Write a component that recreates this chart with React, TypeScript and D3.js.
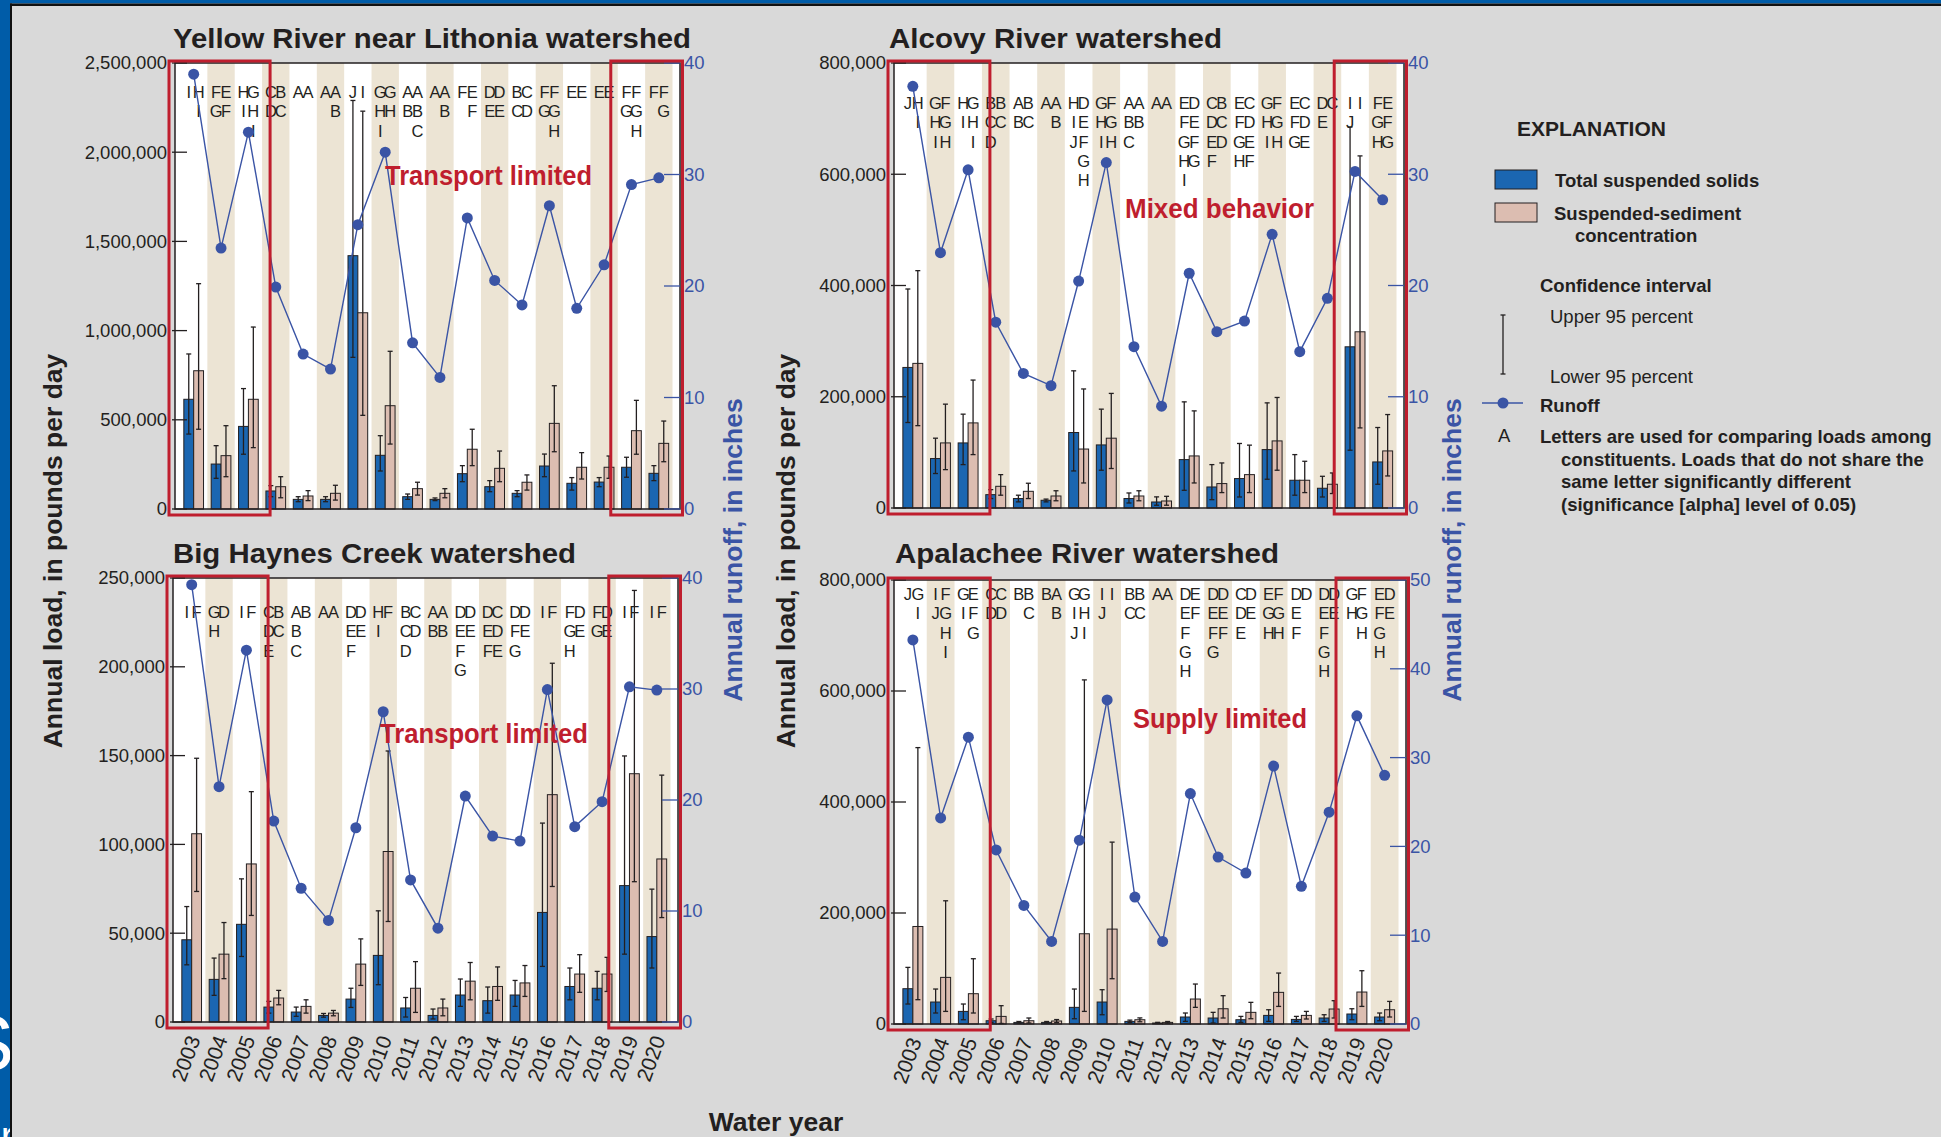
import React from 'react';
import * as d3 from 'd3';

const years = ['2003', '2004', '2005', '2006', '2007', '2008', '2009', '2010', '2011', '2012', '2013', '2014', '2015', '2016', '2017', '2018', '2019', '2020'];

// Yellow River near Lithonia
const yellowTss = [615000, 252000, 463000, 101000, 54000, 54000, 1420000, 301000, 69000, 54000, 198000, 125000, 88000, 241000, 144000, 151000, 234000, 200000];
const yellowTssLo = [420000, 172000, 307000, 69000, 41000, 41000, 850000, 213000, 54000, 47000, 153000, 97000, 69000, 181000, 106000, 125000, 178000, 159000];
const yellowTssHi = [869000, 355000, 675000, 131000, 69000, 69000, 2290000, 411000, 84000, 62000, 243000, 159000, 103000, 308000, 176000, 176000, 290000, 243000];
const yellowSsc = [775000, 299000, 615000, 125000, 73000, 88000, 1100000, 579000, 114000, 88000, 335000, 228000, 150000, 480000, 234000, 234000, 439000, 368000];
const yellowSscLo = [447000, 181000, 344000, 63000, 47000, 50000, 525000, 364000, 78000, 63000, 243000, 153000, 106000, 321000, 168000, 172000, 307000, 265000];
const yellowSscHi = [1263000, 467000, 1020000, 181000, 103000, 133000, 2230000, 884000, 150000, 114000, 447000, 325000, 191000, 691000, 316000, 297000, 609000, 493000];
const yellowRunoff = [39.0, 23.4, 33.8, 19.9, 13.9, 12.55, 25.5, 32.0, 14.9, 11.8, 26.1, 20.5, 18.3, 27.2, 18.0, 21.9, 29.1, 29.7];
const yellowTssLetters = ['I', 'FG', 'HI', 'CD', 'A', 'A', 'J', 'GHI', 'AB', 'A', 'F', 'DE', 'BC', 'FG', 'E', 'E', 'FG', 'F'];
const yellowSscLetters = ['HI', 'EF', 'GHI', 'BC', 'A', 'AB', 'I', 'GH', 'ABC', 'AB', 'EF', 'DE', 'CD', 'FGH', 'E', 'E', 'FGH', 'FG'];

// Alcovy River
const alcovyTss = [252700, 88900, 117000, 24000, 17000, 13900, 135700, 113400, 17000, 10800, 87000, 37800, 52900, 105000, 49900, 35500, 289800, 82800];
const alcovyTssLo = [153700, 62000, 78000, 17000, 11000, 11000, 66600, 67900, 9000, 5000, 31800, 15000, 19800, 51700, 23000, 19800, 103900, 42700];
const alcovyTssHi = [393700, 125500, 168700, 33000, 23000, 16000, 246600, 177700, 27000, 20000, 190800, 78000, 116000, 189000, 96000, 57000, 685000, 144700];
const alcovySsc = [260000, 117000, 153000, 39000, 30000, 21600, 106000, 125500, 21600, 12600, 93600, 43900, 60000, 120600, 49900, 42700, 316800, 102600];
const alcovySscLo = [148000, 69000, 96000, 23000, 17000, 13000, 45000, 71000, 13000, 5000, 45000, 27700, 27700, 67900, 27700, 26000, 144000, 57600];
const alcovySscHi = [426700, 186700, 230000, 60000, 44500, 31000, 214000, 206000, 31000, 21000, 174600, 81000, 113000, 198700, 84000, 63000, 633000, 168000];
const alcovyRunoff = [37.9, 22.95, 30.4, 16.7, 12.1, 11.0, 20.4, 31.05, 14.5, 9.15, 21.1, 15.85, 16.8, 24.6, 14.05, 18.85, 30.25, 27.7];
const alcovyTssLetters = ['J', 'GHI', 'HI', 'BCD', 'AB', 'A', 'HIJ', 'GHI', 'ABC', 'A', 'EFGHI', 'CDEF', 'EFGH', 'GHI', 'EFG', 'DE', 'IJ', 'FGH'];
const alcovySscLetters = ['HI', 'FGH', 'GHI', 'BC', 'BC', 'AB', 'DEFGH', 'FGH', 'AB', 'A', 'DEFG', 'BCD', 'CDEF', 'FGH', 'CDE', 'C', 'I', 'EFG'];

// Big Haynes Creek
const haynesTss = [46300, 24000, 55000, 8400, 5600, 3700, 12900, 37500, 7900, 3700, 15200, 12000, 15200, 61700, 20000, 19000, 76800, 48100];
const haynesTssLo = [32200, 15000, 36900, 5000, 3200, 2700, 8200, 21000, 2800, 1700, 8800, 5000, 8800, 31300, 12500, 12500, 38200, 30400];
const haynesTssHi = [65000, 36000, 80600, 11600, 8400, 4800, 19000, 62600, 13800, 7300, 24200, 19700, 23400, 112000, 30400, 28500, 149800, 74800];
const haynesSsc = [106000, 38200, 89000, 13500, 8800, 5000, 32600, 96000, 19000, 7900, 23000, 20000, 22000, 128000, 27000, 27000, 139800, 91800];
const haynesSscLo = [73500, 24400, 60000, 9700, 5000, 3500, 20600, 56600, 5400, 3500, 12500, 12200, 14400, 76300, 16700, 17200, 79000, 58800];
const haynesSscHi = [148500, 56000, 129700, 17800, 12500, 6500, 46800, 152600, 34000, 12900, 33500, 31000, 31800, 202000, 37900, 36400, 243000, 139000];
const haynesRunoff = [39.4, 21.2, 33.5, 18.1, 12.05, 9.15, 17.5, 27.95, 12.8, 8.45, 20.35, 16.75, 16.3, 29.95, 17.6, 19.85, 30.2, 29.9];
const haynesTssLetters = ['I', 'GH', 'I', 'CDE', 'ABC', 'A', 'DEF', 'HI', 'BCD', 'AB', 'DEFG', 'DEF', 'DFG', 'I', 'FGH', 'FG', 'I', 'I'];
const haynesSscLetters = ['F', 'D', 'F', 'BC', 'B', 'A', 'DE', 'F', 'CD', 'AB', 'DE', 'CDE', 'DE', 'F', 'DE', 'DE', 'F', 'F'];

// Apalachee River
const apalacheeTss = [63600, 39600, 22700, 5900, 2900, 2900, 30000, 39600, 4700, 1800, 12600, 10800, 7700, 15500, 8300, 10800, 18000, 12600];
const apalacheeTssLo = [36000, 19800, 7700, 3000, 1500, 1500, 9500, 16700, 2500, 1000, 4700, 1800, 2900, 4700, 4700, 4700, 7700, 5900];
const apalacheeTssHi = [102000, 63000, 36000, 9000, 4500, 4500, 63000, 61800, 7000, 3000, 19800, 21000, 13700, 25700, 13700, 16700, 27500, 19800];
const apalacheeSsc = [175700, 84000, 54600, 13700, 5900, 5400, 162600, 171000, 7700, 2900, 45000, 27500, 21000, 57000, 15500, 27000, 57600, 25700];
const apalacheeSscLo = [43800, 22700, 19800, 1000, 1800, 2500, 22700, 81600, 4000, 1500, 30000, 10800, 9500, 31700, 9000, 10800, 31700, 12600];
const apalacheeSscHi = [498000, 222000, 117600, 33000, 10800, 8000, 620000, 327700, 11000, 4500, 72000, 51000, 39000, 91800, 22700, 42000, 96000, 40700];
const apalacheeRunoff = [43.25, 23.2, 32.3, 19.6, 13.35, 9.3, 20.7, 36.5, 14.3, 9.3, 25.95, 18.8, 17.0, 29.05, 15.5, 23.85, 34.7, 28.0];
const apalacheeTssLetters = ['J', 'IJ', 'GI', 'CD', 'B', 'B', 'GIJ', 'IJ', 'BC', 'A', 'DEFGH', 'DEFG', 'CDE', 'EGH', 'DEF', 'DEFGH', 'GH', 'EFGH'];
const apalacheeSscLetters = ['GI', 'FGHI', 'EFG', 'CD', 'BC', 'AB', 'GHI', 'I', 'BC', 'A', 'EF', 'DEF', 'DE', 'FGH', 'D', 'DE', 'FGH', 'DE'];

const FONT = '"Liberation Sans", Arial, Helvetica, sans-serif';
const INK = '#231f20';
const BLUE = '#1b66b1';
const PINK = '#dcbdb1';
const RUN = '#3a54a5';
const RED = '#bf1e2e';
const BEIGE = '#ece4d4';
const BG = '#d9d9d9';

const panels = [
  {
    title: 'Yellow River near Lithonia watershed', titleX: 173, titleY: 48, titleW: 518,
    left: 175, right: 680, top: 63, bottom: 509, yMax: 2500000, rMax: 40, letterTop: 98,
    note: 'Transport limited', noteX: 385, noteY: 185, noteW: 207, showYears: false,
    tss: yellowTss, tssLo: yellowTssLo, tssHi: yellowTssHi,
    ssc: yellowSsc, sscLo: yellowSscLo, sscHi: yellowSscHi,
    runoff: yellowRunoff, tssL: yellowTssLetters, sscL: yellowSscLetters,
  },
  {
    title: 'Alcovy River watershed', titleX: 889, titleY: 48, titleW: 333,
    left: 894, right: 1404, top: 63, bottom: 508, yMax: 800000, rMax: 40, letterTop: 109,
    note: 'Mixed behavior', noteX: 1125, noteY: 218, noteW: 189, showYears: false,
    tss: alcovyTss, tssLo: alcovyTssLo, tssHi: alcovyTssHi,
    ssc: alcovySsc, sscLo: alcovySscLo, sscHi: alcovySscHi,
    runoff: alcovyRunoff, tssL: alcovyTssLetters, sscL: alcovySscLetters,
  },
  {
    title: 'Big Haynes Creek watershed', titleX: 173, titleY: 563, titleW: 403,
    left: 173, right: 678, top: 578, bottom: 1022, yMax: 250000, rMax: 40, letterTop: 618,
    note: 'Transport limited', noteX: 380, noteY: 743, noteW: 208, showYears: true,
    tss: haynesTss, tssLo: haynesTssLo, tssHi: haynesTssHi,
    ssc: haynesSsc, sscLo: haynesSscLo, sscHi: haynesSscHi,
    runoff: haynesRunoff, tssL: haynesTssLetters, sscL: haynesSscLetters,
  },
  {
    title: 'Apalachee River watershed', titleX: 895, titleY: 563, titleW: 384,
    left: 894, right: 1406, top: 580, bottom: 1024, yMax: 800000, rMax: 50, letterTop: 600,
    note: 'Supply limited', noteX: 1133, noteY: 728, noteW: 174, showYears: true,
    tss: apalacheeTss, tssLo: apalacheeTssLo, tssHi: apalacheeTssHi,
    ssc: apalacheeSsc, sscLo: apalacheeSscLo, sscHi: apalacheeSscHi,
    runoff: apalacheeRunoff, tssL: apalacheeTssLetters, sscL: apalacheeSscLetters,
  },
];

function ErrBar({ x, y0, y1 }: { x: number; y0: number; y1: number }) {
  return (
    <g stroke={INK} strokeWidth={1.3}>
      <line x1={x} x2={x} y1={y0} y2={y1} />
      <line x1={x - 2.5} x2={x + 2.5} y1={y0} y2={y0} />
      <line x1={x - 2.5} x2={x + 2.5} y1={y1} y2={y1} />
    </g>
  );
}

function Panel({ p }: { p: any }) {
  const x = d3.scaleBand().domain(years).range([p.left + 5, p.right - 7.5]);
  const bw = x.bandwidth();
  const y = d3.scaleLinear().domain([0, p.yMax]).range([p.bottom, p.top]);
  const yr = d3.scaleLinear().domain([0, p.rMax]).range([p.bottom, p.top]);
  const barW = bw * 0.36;
  const cx = (yrs: string) => (x(yrs) as number) + bw / 2;
  const fmt = d3.format(',');
  const line = d3.line<number>().x((_, i) => cx(years[i])).y(d => yr(d));
  const rowH = 19.3;

  const box1 = [(x('2003') as number) - 11, (x('2005') as number) + bw + 8];
  const box2 = [(x('2019') as number) - 7, (x('2020') as number) + bw + 10];

  return (
    <g>
      <text x={p.titleX} y={p.titleY} fontSize={28} fontWeight="bold" fill={INK}
        textLength={p.titleW} lengthAdjust="spacingAndGlyphs">{p.title}</text>
      <rect x={p.left} y={p.top} width={p.right - p.left} height={p.bottom - p.top} fill="#fff" />
      {years.map((yy, i) => i % 2 === 1 ? (
        <rect key={yy} x={x(yy)} y={p.top} width={bw} height={p.bottom - p.top} fill={BEIGE} />
      ) : null)}
      {years.map((yy, i) => (
        <g key={'b' + yy}>
          <rect x={cx(yy) - barW} y={y(p.tss[i])} width={barW} height={p.bottom - y(p.tss[i])} fill={BLUE} stroke={INK} strokeWidth={1} />
          <rect x={cx(yy)} y={y(p.ssc[i])} width={barW} height={p.bottom - y(p.ssc[i])} fill={PINK} stroke={INK} strokeWidth={1} />
          <ErrBar x={cx(yy) - barW / 2} y0={y(p.tssLo[i])} y1={y(p.tssHi[i])} />
          <ErrBar x={cx(yy) + barW / 2} y0={y(p.sscLo[i])} y1={y(p.sscHi[i])} />
        </g>
      ))}
      {years.map((yy, i) => (
        <g key={'l' + yy} fontSize={16.5} fill={INK} textAnchor="middle">
          {p.tssL[i].split('').map((c: string, r: number) => (
            <text key={'t' + r} x={cx(yy) - barW / 2} y={p.letterTop + r * rowH}>{c}</text>
          ))}
          {p.sscL[i].split('').map((c: string, r: number) => (
            <text key={'s' + r} x={cx(yy) + barW / 2} y={p.letterTop + r * rowH}>{c}</text>
          ))}
        </g>
      ))}
      <path d={line(p.runoff) as string} fill="none" stroke={RUN} strokeWidth={1.4} />
      {p.runoff.map((v: number, i: number) => (
        <circle key={'r' + i} cx={cx(years[i])} cy={yr(v)} r={5.5} fill={RUN} />
      ))}
      <text x={p.noteX} y={p.noteY} fontSize={28} fontWeight="bold" fill={RED}
        textLength={p.noteW} lengthAdjust="spacingAndGlyphs">{p.note}</text>
      <rect x={p.left} y={p.top} width={p.right - p.left} height={p.bottom - p.top} fill="none" stroke={INK} strokeWidth={1.5} />
      {y.ticks(5).map(t => (
        <g key={'yt' + t}>
          <line x1={p.left - 3} x2={p.left + 12} y1={y(t)} y2={y(t)} stroke={INK} strokeWidth={1.3} />
          <text x={p.left - 8} y={y(t)} dy="0.35em" textAnchor="end" fontSize={18.5} fill={INK}>{fmt(t)}</text>
        </g>
      ))}
      {yr.ticks(5).map(t => (
        <g key={'rt' + t}>
          <line x1={p.right - 16} x2={p.right} y1={yr(t)} y2={yr(t)} stroke={RUN} strokeWidth={1.3} />
          <text x={p.right + 4} y={yr(t)} dy="0.35em" fontSize={18.5} fill={RUN}>{t}</text>
        </g>
      ))}
      {p.showYears && years.map(yy => (
        <text key={'yl' + yy} transform={`translate(${cx(yy) + 9},${p.bottom + 17}) rotate(-70)`}
          textAnchor="end" fontSize={21} fill={INK}>{yy}</text>
      ))}
      <g fill="none" stroke={RED} strokeWidth={3}>
        <rect x={box1[0]} y={p.top - 2} width={box1[1] - box1[0]} height={p.bottom - p.top + 8} />
        <rect x={box2[0]} y={p.top - 2} width={box2[1] - box2[0]} height={p.bottom - p.top + 8} />
      </g>
    </g>
  );
}

function Legend() {
  return (
    <g fill={INK} fontSize={18.5}>
      <text x={1517} y={136} fontSize={21} fontWeight="bold">EXPLANATION</text>
      <rect x={1495} y={170} width={42} height={19} fill={BLUE} stroke={INK} strokeWidth={1} />
      <text x={1555} y={187} fontWeight="bold">Total suspended solids</text>
      <rect x={1495} y={203} width={42} height={19} fill={PINK} stroke={INK} strokeWidth={1} />
      <text x={1554} y={220} fontWeight="bold">Suspended-sediment</text>
      <text x={1575} y={242} fontWeight="bold">concentration</text>
      <text x={1540} y={292} fontWeight="bold">Confidence interval</text>
      <text x={1550} y={323}>Upper 95 percent</text>
      <ErrBar x={1503} y0={315} y1={374} />
      <text x={1550} y={383}>Lower 95 percent</text>
      <line x1={1482} x2={1523} y1={403} y2={403} stroke={RUN} strokeWidth={1.4} />
      <circle cx={1503} cy={403} r={5.5} fill={RUN} />
      <text x={1540} y={412} fontWeight="bold">Runoff</text>
      <text x={1498} y={442}>A</text>
      <g fontWeight="bold">
        <text x={1540} y={443}>Letters are used for comparing loads among</text>
        <text x={1561} y={466}>constituents. Loads that do not share the</text>
        <text x={1561} y={488}>same letter significantly different</text>
        <text x={1561} y={511}>(significance [alpha] level of 0.05)</text>
      </g>
    </g>
  );
}

export default function App() {
  const W = 1941;
  const H = 1137;
  return (
    <svg width={W} height={H} style={{ position: 'absolute', left: 0, top: 0 }} fontFamily={FONT}>
      <defs>
        <clipPath id="leftStrip"><rect x={0} y={0} width={10} height={H} /></clipPath>
      </defs>
      <rect x={0} y={0} width={W} height={H} fill={BG} />
      <rect x={0} y={0} width={10} height={H} fill="#005ca8" />
      <rect x={0} y={0} width={W} height={3.5} fill="#005ca8" />
      <rect x={10} y={3.5} width={W} height={2.5} fill="#111" />
      <rect x={10} y={3.5} width={2} height={H} fill="#111" />
      <g clipPath="url(#leftStrip)" fill="#fff">
        <text x={14} y={1070} fontSize={78} textAnchor="end">S</text>
        <text x={14} y={1150} fontSize={40} textAnchor="end">r</text>
      </g>
      {panels.map(p => <Panel key={p.title} p={p} />)}
      <g fontSize={26.5} fontWeight="bold">
        <text transform="translate(62,551) rotate(-90)" textAnchor="middle" fill={INK}>Annual load, in pounds per day</text>
        <text transform="translate(795,551) rotate(-90)" textAnchor="middle" fill={INK}>Annual load, in pounds per day</text>
        <text transform="translate(742,550) rotate(-90)" textAnchor="middle" fill={RUN}>Annual runoff, in inches</text>
        <text transform="translate(1461,550) rotate(-90)" textAnchor="middle" fill={RUN}>Annual runoff, in inches</text>
        <text x={776} y={1131} textAnchor="middle" fill={INK}>Water year</text>
      </g>
      <Legend />
    </svg>
  );
}
